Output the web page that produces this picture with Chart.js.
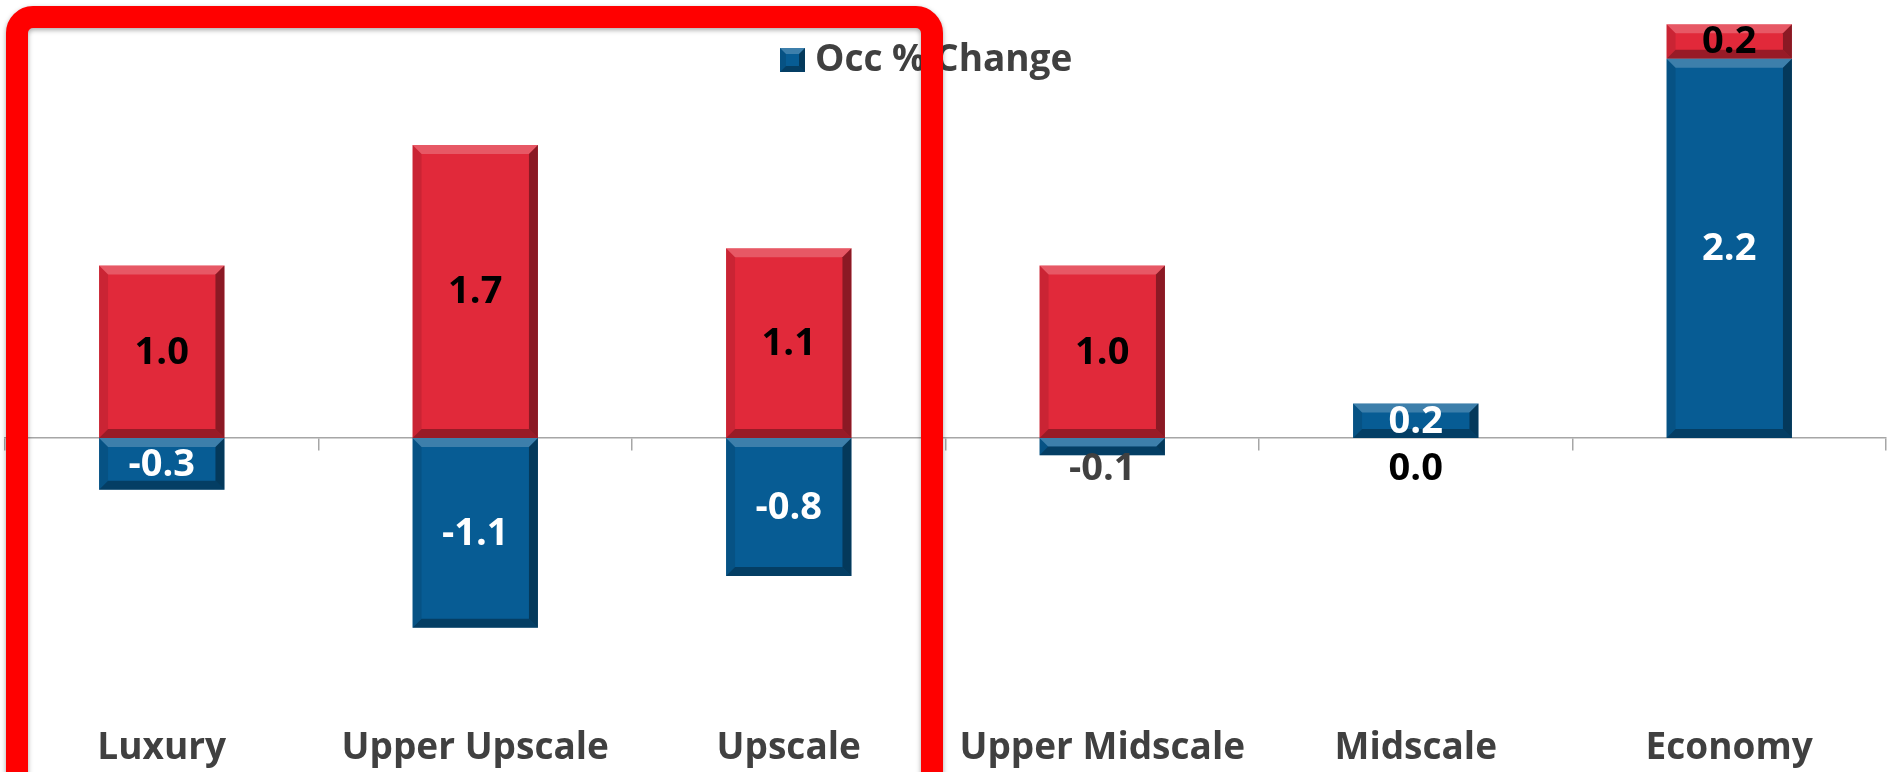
<!DOCTYPE html>
<html>
<head>
<meta charset="utf-8">
<script src="https://cdn.jsdelivr.net/npm/chart.js@4.4.1/dist/chart.umd.min.js"></script>
<style>
  html, body { margin: 0; padding: 0; background: #ffffff; }
  #wrap { position: relative; width: 1893px; height: 772px; }
</style>
</head>
<body>
<div id="wrap"><canvas id="segmentChart" width="1893" height="772"></canvas></div>
<script>
const categories = ["Luxury", "Upper Upscale", "Upscale", "Upper Midscale", "Midscale", "Economy"];
const occChange = [-0.3, -1.1, -0.8, -0.1, 0.2, 2.2];
const adrChange = [1.0, 1.7, 1.1, 1.0, 0.0, 0.2];
const seriesNames = ["Occ % Change", "ADR % Change"];
const valueRange = [-1.5, 2.5];

const BLUE = "#075c94";
const RED = "#e1293a";
const TEXT = "#404040";
const AXIS = "#a6a6a6";
const FONT = "'Open Sans', 'DejaVu Sans', sans-serif";

// excel-like bevel: light top edge, dark bottom and right edges
function drawBevel(ctx, left, top, right, bottom, size) {
  const b = Math.min(size, (bottom - top) / 2, (right - left) / 2);
  if (b <= 0) {
    return;
  }
  const faces = [
    ["rgba(255,255,255,0.22)", [[left, top], [right, top], [right - b, top + b], [left + b, top + b]]],
    ["rgba(0,0,0,0.32)", [[left, bottom], [right, bottom], [right - b, bottom - b], [left + b, bottom - b]]],
    ["rgba(0,0,0,0.38)", [[right, top], [right, bottom], [right - b, bottom - b], [right - b, top + b]]],
    ["rgba(0,0,0,0.10)", [[left, top], [left, bottom], [left + b, bottom - b], [left + b, top + b]]]
  ];
  faces.forEach(([color, pts]) => {
    ctx.beginPath();
    ctx.moveTo(pts[0][0], pts[0][1]);
    pts.slice(1).forEach((p) => ctx.lineTo(p[0], p[1]));
    ctx.closePath();
    ctx.fillStyle = color;
    ctx.fill();
  });
}

function barBox(bar) {
  const { x, y, base, width } = bar.getProps(["x", "y", "base", "width"], true);
  return {
    left: x - width / 2,
    right: x + width / 2,
    top: Math.min(y, base),
    bottom: Math.max(y, base),
    x: x
  };
}

const bevelPlugin = {
  id: "bevel",
  afterDatasetsDraw(chart) {
    const ctx = chart.ctx;
    ctx.save();
    chart.data.datasets.forEach((ds, i) => {
      chart.getDatasetMeta(i).data.forEach((bar) => {
        const box = barBox(bar);
        if (box.bottom - box.top < 1) {
          return;
        }
        drawBevel(ctx, box.left, box.top, box.right, box.bottom, 9);
      });
    });
    ctx.restore();
  }
};

const valueLabelPlugin = {
  id: "valueLabels",
  afterDatasetsDraw(chart) {
    const ctx = chart.ctx;
    const zero = chart.scales.y.getPixelForValue(0);
    const insideColors = ["#ffffff", "#000000"];
    const outsideColors = [TEXT, "#000000"];

    ctx.save();
    ctx.font = `bold 38px ${FONT}`;
    ctx.textAlign = "center";
    ctx.textBaseline = "middle";

    chart.data.datasets.forEach((ds, i) => {
      chart.getDatasetMeta(i).data.forEach((bar, j) => {
        const value = ds.data[j];
        const box = barBox(bar);
        const text = value.toFixed(1);
        if (Math.abs(value) >= 0.15) {
          ctx.fillStyle = insideColors[i];
          ctx.fillText(text, box.x, (box.top + box.bottom) / 2 + 1);
        } else {
          // too thin to hold its label, put it under the axis
          ctx.fillStyle = outsideColors[i];
          ctx.fillText(text, box.x, zero + 31);
        }
      });
    });
    ctx.restore();
  }
};

const legendPlugin = {
  id: "occLegend",
  afterDraw(chart) {
    const ctx = chart.ctx;
    const ds = chart.data.datasets[0];
    ctx.save();
    ctx.fillStyle = ds.backgroundColor;
    ctx.fillRect(780, 48, 25, 24);
    drawBevel(ctx, 780, 48, 805, 72, 6);
    ctx.font = `bold 37px ${FONT}`;
    ctx.fillStyle = TEXT;
    ctx.textAlign = "left";
    ctx.textBaseline = "middle";
    ctx.fillText(ds.label, 815, 60);
    ctx.restore();
  }
};

// red highlight frame around the first three segments
const framePlugin = {
  id: "highlightFrame",
  afterDraw(chart) {
    const ctx = chart.ctx;
    const left = 17, right = 932, top = 17, r = 16;
    const bottom = chart.height + 40;
    ctx.save();
    ctx.shadowColor = "rgba(0,0,0,0.35)";
    ctx.shadowBlur = 5;
    ctx.shadowOffsetY = 2;
    ctx.strokeStyle = "#ff0000";
    ctx.lineWidth = 22;
    ctx.beginPath();
    ctx.moveTo(left, bottom);
    ctx.lineTo(left, top + r);
    ctx.arcTo(left, top, left + r, top, r);
    ctx.lineTo(right - r, top);
    ctx.arcTo(right, top, right, top + r, r);
    ctx.lineTo(right, bottom);
    ctx.stroke();
    ctx.restore();
  }
};

const chart = new Chart(document.getElementById("segmentChart"), {
  type: "bar",
  data: {
    labels: categories,
    datasets: [
      {
        label: seriesNames[0],
        data: occChange,
        backgroundColor: BLUE,
        borderWidth: 0,
        barPercentage: 1,
        categoryPercentage: 0.4
      },
      {
        label: seriesNames[1],
        data: adrChange,
        backgroundColor: RED,
        borderWidth: 0,
        barPercentage: 1,
        categoryPercentage: 0.4
      }
    ]
  },
  options: {
    responsive: false,
    animation: false,
    layout: { padding: { left: 5, right: 7, top: 7, bottom: -29 } },
    plugins: {
      legend: { display: false },
      tooltip: { enabled: false }
    },
    scales: {
      x: {
        stacked: true,
        offset: true,
        position: { y: 0 },
        grid: {
          offset: true,
          drawOnChartArea: false,
          drawTicks: true,
          tickLength: 12,
          color: AXIS,
          lineWidth: 1.5
        },
        border: { color: AXIS, width: 1.5 },
        ticks: { display: false }
      },
      xLabels: {
        type: "category",
        labels: categories,
        offset: true,
        position: "bottom",
        grid: { display: false, drawTicks: false },
        border: { display: false },
        ticks: {
          color: TEXT,
          font: { family: FONT, size: 37, weight: "bold" },
          padding: 30,
          maxRotation: 0,
          autoSkip: false
        }
      },
      y: {
        stacked: true,
        min: valueRange[0],
        max: valueRange[1],
        display: false
      }
    }
  },
  plugins: [bevelPlugin, valueLabelPlugin, legendPlugin, framePlugin]
});
</script>
</body>
</html>
